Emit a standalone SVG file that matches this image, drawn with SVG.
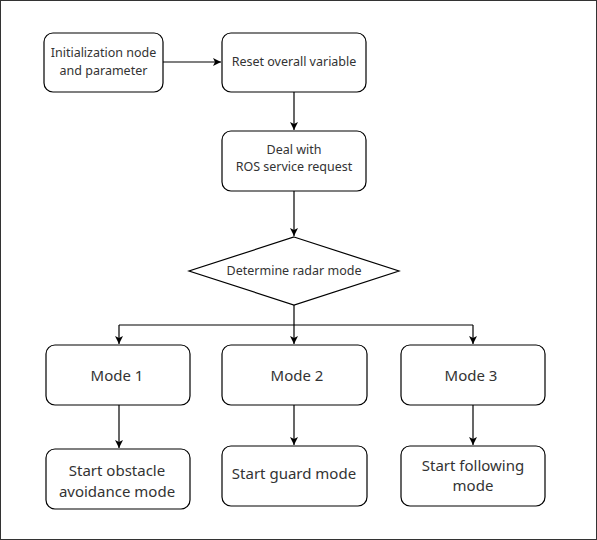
<svg xmlns="http://www.w3.org/2000/svg" width="597" height="540" viewBox="0 0 597 540">
<style>
.n{fill:#fff;stroke:#000;stroke-width:1.2}
.t{font-family:"Noto Sans","Open Sans",sans-serif;fill:#333;text-anchor:middle}
.s{font-size:12.5px}
.l{font-size:15px}
.c{fill:none;stroke:#000;stroke-width:1.2}
</style>
<defs>
<marker id="a" viewBox="0 0 10 10" refX="10" refY="5" markerWidth="8" markerHeight="8" markerUnits="userSpaceOnUse" orient="auto">
<path d="M0,0L10,5L0,10L2.5,5Z" fill="#000"/>
</marker>
</defs>
<rect x="0.5" y="0.5" width="596" height="539" fill="#fff" stroke="#333" stroke-width="1"/>
<g id="connectors">
<path class="c" d="M163,62H221" marker-end="url(#a)"/>
<path class="c" d="M294,92V130" marker-end="url(#a)"/>
<path class="c" d="M294,191V236" marker-end="url(#a)"/>
<path class="c" d="M294,305V344" marker-end="url(#a)"/>
<path class="c" d="M119,325H473"/>
<path class="c" d="M119,325V344" marker-end="url(#a)"/>
<path class="c" d="M473,325V344" marker-end="url(#a)"/>
<path class="c" d="M119,405V448" marker-end="url(#a)"/>
<path class="c" d="M294,405V445" marker-end="url(#a)"/>
<path class="c" d="M473,405V445" marker-end="url(#a)"/>
</g>
<g id="init"><rect class="n" x="44" y="33" width="119" height="59" rx="9"/>
<text class="t s" x="103.5" y="57">Initialization node</text><text class="t s" x="103.5" y="75">and parameter</text></g>
<g id="reset"><rect class="n" x="222" y="33" width="144" height="59" rx="9"/>
<text class="t s" x="294" y="66">Reset overall variable</text></g>
<g id="ros"><rect class="n" x="222" y="131" width="144" height="60" rx="9"/>
<text class="t s" x="294" y="154">Deal with</text><text class="t s" x="294" y="171">ROS service request</text></g>
<g id="radar"><path class="n" d="M294,237L399,271L294,305L189,271Z"/>
<text class="t s" x="294" y="275">Determine radar mode</text></g>
<g id="mode1"><rect class="n" x="46" y="345" width="144" height="60" rx="9"/>
<text class="t l" x="117" y="381">Mode 1</text></g>
<g id="mode2"><rect class="n" x="222" y="345" width="145" height="60" rx="9"/>
<text class="t l" x="297" y="381">Mode 2</text></g>
<g id="mode3"><rect class="n" x="401" y="345" width="144" height="60" rx="9"/>
<text class="t l" x="471" y="381">Mode 3</text></g>
<g id="obstacle"><rect class="n" x="46" y="449" width="144" height="60" rx="9"/>
<text class="t l" x="117" y="476">Start obstacle</text><text class="t l" x="117" y="497">avoidance mode</text></g>
<g id="guard"><rect class="n" x="222" y="446" width="145" height="60" rx="9"/>
<text class="t l" x="294" y="479">Start guard mode</text></g>
<g id="following"><rect class="n" x="401" y="446" width="144" height="60" rx="9"/>
<text class="t l" x="473" y="471">Start following</text><text class="t l" x="473" y="491">mode</text></g>
</svg>
